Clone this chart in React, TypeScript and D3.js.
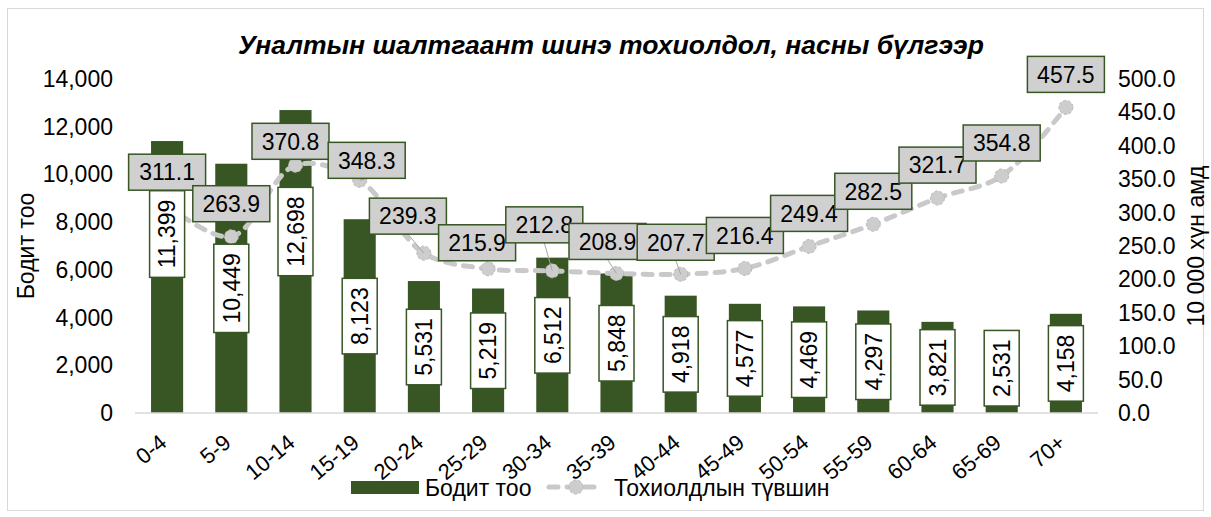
import React from 'react';
import * as d3 from 'd3';

const ageGroups = ['0-4', '5-9', '10-14', '15-19', '20-24', '25-29', '30-34', '35-39', '40-44', '45-49', '50-54', '55-59', '60-64', '65-69', '70+'];
const actualCounts = [11399, 10449, 12698, 8123, 5531, 5219, 6512, 5848, 4918, 4577, 4469, 4297, 3821, 2531, 4158];
const incidenceRates = [311.1, 263.9, 370.8, 348.3, 239.3, 215.9, 212.8, 208.9, 207.7, 216.4, 249.4, 282.5, 321.7, 354.8, 457.5];
const leftTicks = [0, 2000, 4000, 6000, 8000, 10000, 12000, 14000];
const rightTicks = [0, 50, 100, 150, 200, 250, 300, 350, 400, 450, 500];

const title = 'Уналтын шалтгаант шинэ тохиолдол, насны бүлгээр';
const leftTitle = 'Бодит тоо';
const rightTitle = '10 000 хүн амд';
const countName = 'Бодит тоо';
const rateName = 'Тохиолдлын түвшин';

// label placement tweaks (layout only), like the manual moves in the source chart
const rateLabelNudge: Record<string, [number, number, boolean]> = {
  '10-14': [-5, 9, false],
  '15-19': [7, 13, true],
  '20-24': [-16, -4, true],
  '25-29': [-11, 7, false],
  '30-34': [-8, -13, true],
  '35-39': [-9, 1, true],
  '40-44': [-5, 1, true],
};
const countLabelNudge: Record<string, number> = { '0-4': -43, '10-14': -30 };

const FONT = "'Liberation Sans', Arial, sans-serif";
const GREEN = '#375623';
const GRAY = '#c9c9c9';

let ctx: CanvasRenderingContext2D | null = null;
function textWidth(s: string, size: number) {
  if (!ctx) ctx = document.createElement('canvas').getContext('2d');
  if (!ctx) return s.length * size * 0.55;
  ctx.font = `${size}px ${FONT}`;
  return ctx.measureText(s).width;
}

const App: React.FC = () => {
  const W = 1211;
  const H = 517;
  const left = 135, right = 1098, top = 79, bottom = 413;

  const x = d3.scaleBand().domain(ageGroups).range([left, right]).paddingInner(0.5).paddingOuter(0.25);
  const yL = d3.scaleLinear().domain([0, 14000]).range([bottom, top]);
  const yR = d3.scaleLinear().domain([0, 500]).range([bottom, top]);
  const fmtCount = d3.format(',');
  const fmtLeft = d3.format(',');
  const fmtRate = d3.format('.1f');
  const cx = (g: string) => (x(g) || 0) + x.bandwidth() / 2;

  const pts = ageGroups.map((g, i) => [cx(g), yR(incidenceRates[i])] as [number, number]);
  const line = d3.line().curve(d3.curveCatmullRom.alpha(0.5))(pts) || '';

  const fs = 23;

  return (
    <svg width={W} height={H} style={{ position: 'absolute', left: 0, top: 0, fontFamily: FONT }}>
      <rect x={0} y={0} width={W} height={H} fill="#fff" />
      <rect x={7.5} y={8.5} width={1196} height={502} fill="none" stroke="#d9d9d9" strokeWidth={1} />

      <text x={611} y={54} textAnchor="middle" fontSize={26.5} fontWeight="bold" fontStyle="italic" fill="#000">{title}</text>

      {/* left axis */}
      {leftTicks.map(t => (
        <text key={'l' + t} x={113} y={yL(t)} dy="0.35em" textAnchor="end" fontSize={fs} fill="#000">{fmtLeft(t)}</text>
      ))}
      <text transform={`translate(34,246) rotate(-90)`} textAnchor="middle" fontSize={fs} fill="#000">{leftTitle}</text>

      {/* right axis */}
      {rightTicks.map(t => (
        <text key={'r' + t} x={1118} y={yR(t)} dy="0.35em" textAnchor="start" fontSize={fs} fill="#000">{fmtRate(t)}</text>
      ))}
      <text transform={`translate(1204,246) rotate(-90)`} textAnchor="middle" fontSize={fs} fill="#000">{rightTitle}</text>

      {/* bars */}
      {ageGroups.map((g, i) => (
        <rect key={'b' + g} x={x(g)} y={yL(actualCounts[i])} width={x.bandwidth()} height={bottom - yL(actualCounts[i])} fill={GREEN} />
      ))}
      <line x1={left} x2={right} y1={bottom} y2={bottom} stroke="#d9d9d9" strokeWidth={1.5} />

      {/* category labels */}
      {ageGroups.map(g => (
        <text key={'x' + g} transform={`translate(${cx(g) - 4},${bottom + 26}) rotate(-40)`} textAnchor="end" dy="0.35em" fontSize={22} fill="#000">{g}</text>
      ))}

      {/* rate line */}
      <path d={line} fill="none" stroke={GRAY} strokeWidth={5} strokeDasharray="9 9" strokeLinecap="round" />
      {pts.map((p, i) => (
        <circle key={'m' + i} cx={p[0]} cy={p[1]} r={7} fill="#cdcdcd" stroke="#b8b8b8" strokeWidth={1} strokeDasharray="3 2" />
      ))}

      {/* count labels */}
      {ageGroups.map((g, i) => {
        const s = fmtCount(actualCounts[i]);
        const h = textWidth(s, fs) + 18;
        let mid = (yL(actualCounts[i]) + bottom) / 2 + (countLabelNudge[g] || 0);
        mid = Math.min(mid, bottom - 7 - h / 2);
        return (
          <g key={'cl' + g}>
            <rect x={cx(g) - 17.5} y={mid - h / 2} width={35} height={h} fill="#fff" stroke={GREEN} strokeWidth={1.5} />
            <text transform={`translate(${cx(g)},${mid}) rotate(-90)`} textAnchor="middle" dy="0.36em" fontSize={fs} fill="#000">{s}</text>
          </g>
        );
      })}

      {/* rate labels */}
      {ageGroups.map((g, i) => {
        const s = fmtRate(incidenceRates[i]);
        const n = rateLabelNudge[g] || [0, 0, false];
        const lx = pts[i][0] + n[0];
        const ly = pts[i][1] - 33 + n[1];
        const bw = 77, bh = 36;
        return (
          <g key={'rl' + g}>
            {n[2] && <line x1={lx} y1={ly + bh / 2} x2={pts[i][0]} y2={pts[i][1]} stroke="#a6a6a6" strokeWidth={1} />}
            <rect x={lx - bw / 2} y={ly - bh / 2} width={bw} height={bh} fill="#d0d0d0" stroke={GREEN} strokeWidth={1.5} />
            <text x={lx} y={ly} dy="0.36em" textAnchor="middle" fontSize={fs} fill="#000">{s}</text>
          </g>
        );
      })}

      {/* legend */}
      <rect x={351} y={481} width={68} height={13} fill={GREEN} />
      <text x={425} y={488} dy="0.36em" fontSize={fs} fill="#000">{countName}</text>
      <line x1={549} x2={600} y1={487} y2={487} stroke={GRAY} strokeWidth={5} strokeDasharray="9 9" strokeLinecap="round" />
      <circle cx={576} cy={487} r={7} fill="#cdcdcd" stroke="#b8b8b8" strokeWidth={1} strokeDasharray="3 2" />
      <text x={614} y={488} dy="0.36em" fontSize={fs} fill="#000">{rateName}</text>
    </svg>
  );
};

export default App;
